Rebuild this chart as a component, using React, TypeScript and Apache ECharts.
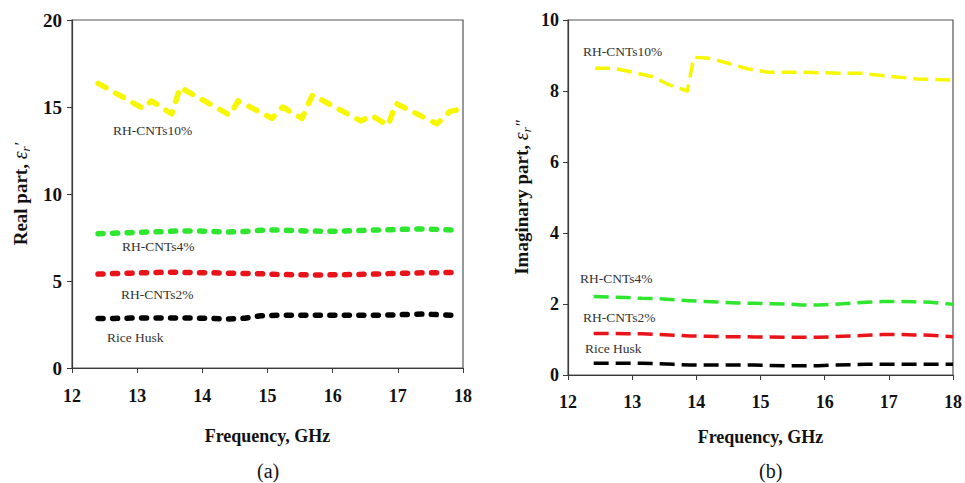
import React, { useEffect, useRef } from "react";
import * as echarts from "echarts";

// ---- Data (a) Real part ----
const freqGrid = [12.4, 12.65, 12.9, 13.15, 13.4, 13.65, 13.9, 14.15, 14.4, 14.65, 14.9, 15.15, 15.4, 15.65, 15.9, 16.15, 16.4, 16.65, 16.9, 17.15, 17.4, 17.65, 17.95];
const freqGridB = [12.4, 12.65, 12.9, 13.15, 13.4, 13.65, 13.9, 14.15, 14.4, 14.65, 14.9, 15.15, 15.4, 15.65, 15.9, 16.15, 16.4, 16.65, 16.9, 17.15, 17.4, 17.65, 18.0];

const realCNT10Freq = [12.4, 13.09, 13.22, 13.53, 13.66, 14.42, 14.55, 15.07, 15.23, 15.53, 15.69, 16.43, 16.6, 16.85, 16.97, 17.6, 17.8, 17.97];
const realCNT10 = [16.36, 14.92, 15.35, 14.6, 16.13, 14.54, 15.35, 14.35, 15.0, 14.35, 15.69, 14.2, 14.5, 13.95, 15.21, 14.03, 14.75, 14.88];
const realCNT4 = [7.72, 7.75, 7.78, 7.82, 7.84, 7.88, 7.88, 7.85, 7.82, 7.84, 7.92, 7.93, 7.9, 7.87, 7.86, 7.87, 7.9, 7.93, 7.95, 7.98, 7.99, 7.96, 7.92];
const realCNT2 = [5.4, 5.43, 5.45, 5.48, 5.5, 5.5, 5.48, 5.47, 5.45, 5.43, 5.42, 5.38, 5.36, 5.35, 5.35, 5.36, 5.38, 5.4, 5.43, 5.45, 5.47, 5.48, 5.5];
const realRH = [2.85, 2.85, 2.87, 2.88, 2.88, 2.88, 2.87, 2.85, 2.82, 2.86, 3.0, 3.03, 3.03, 3.03, 3.03, 3.03, 3.03, 3.03, 3.05, 3.08, 3.1, 3.06, 3.02];

// ---- Data (b) Imaginary part ----
const imagCNT10Freq = [12.42, 12.7, 12.98, 13.32, 13.58, 13.86, 13.96, 14.2, 14.5, 14.81, 15.12, 15.6, 16.31, 16.57, 16.93, 17.44, 18.0];
const imagCNT10 = [8.64, 8.64, 8.54, 8.4, 8.17, 8.0, 8.95, 8.92, 8.78, 8.62, 8.53, 8.53, 8.5, 8.5, 8.43, 8.34, 8.31];
const imagCNT4 = [2.21, 2.2, 2.18, 2.16, 2.15, 2.12, 2.09, 2.07, 2.05, 2.03, 2.02, 2.01, 2.0, 1.97, 1.97, 1.99, 2.02, 2.05, 2.07, 2.07, 2.06, 2.05, 1.99];
const imagCNT2 = [1.17, 1.17, 1.16, 1.16, 1.14, 1.12, 1.1, 1.09, 1.08, 1.08, 1.07, 1.07, 1.06, 1.06, 1.06, 1.08, 1.1, 1.12, 1.14, 1.14, 1.13, 1.12, 1.08];
const imagRH = [0.33, 0.33, 0.33, 0.33, 0.32, 0.3, 0.28, 0.28, 0.28, 0.28, 0.28, 0.27, 0.26, 0.26, 0.26, 0.28, 0.29, 0.3, 0.3, 0.3, 0.3, 0.3, 0.3];

const xTicks = { min: 12, max: 18, interval: 1 };
const yTicksA = { min: 0, max: 20, interval: 5 };
const yTicksB = { min: 0, max: 10, interval: 2 };

const COLORS = { cnt10: "#f7f700", cnt4: "#2ee62e", cnt2: "#e8141a", rh: "#000000" };
const SERIF = "Liberation Serif";

const zip = (xs: number[], ys: number[]) => ys.map((y, i) => [xs[i], y]);

export default function App() {
  const ref = useRef<HTMLDivElement>(null);
  useEffect(() => {
    if (!ref.current) return;
    const chart = echarts.init(ref.current, undefined, { renderer: "svg" });

    const axisLine = { show: true, lineStyle: { color: "#3a3a3a", width: 1.2 } };
    const axisTick = { show: true, inside: false, length: 5, lineStyle: { color: "#3a3a3a" } };
    const tickLabel = (size: number, margin: number) => ({
      fontFamily: SERIF, fontWeight: "bold" as const, fontSize: size, color: "#111", margin,
    });
    const titleStyle = { fontFamily: SERIF, fontWeight: "bold" as const, fontSize: 18, color: "#111" };
    const nameRich = {
      t: { fontFamily: SERIF, fontWeight: "bold" as const, fontSize: 19, color: "#111", lineHeight: 24 },
      e: { fontFamily: SERIF, fontStyle: "italic" as const, fontSize: 20, color: "#111", lineHeight: 24 },
      s: { fontFamily: SERIF, fontStyle: "italic" as const, fontSize: 13, color: "#111", lineHeight: 24, verticalAlign: "bottom" as const },
      p: { fontFamily: SERIF, fontStyle: "italic" as const, fontSize: 17, color: "#111", lineHeight: 24 },
    };

    const lineA = (name: string, data: number[][], color: string, dash: number[]) => ({
      name, type: "line", xAxisIndex: 0, yAxisIndex: 0, data, showSymbol: false, symbol: "none",
      lineStyle: { color, width: 5.5, type: dash, cap: "round", join: "round" },
    });
    const lineB = (name: string, data: number[][], color: string) => ({
      name, type: "line", xAxisIndex: 1, yAxisIndex: 1, data, showSymbol: false, symbol: "none",
      lineStyle: { color, width: 3.5, type: [15, 7], cap: "butt", join: "round" },
    });

    const label = (text: string, x: number, y: number) => ({
      type: "text", left: x, top: y - 8,
      style: { text, fontFamily: SERIF, fontSize: 13.5, fill: "#333" },
    });

    chart.setOption({
      animation: false,
      backgroundColor: "#fff",
      grid: [
        { left: 72, top: 20, width: 391, height: 348, show: true, borderColor: "#555", borderWidth: 1.2 },
        { left: 568, top: 20, width: 388, height: 355, show: true, borderColor: "#555", borderWidth: 1.2 },
      ],
      xAxis: [
        {
          type: "value", gridIndex: 0, ...xTicks, axisLine, axisTick, splitLine: { show: false },
          axisLabel: tickLabel(18, 19),
          name: "Frequency, GHz", nameLocation: "middle", nameGap: 59, nameTextStyle: titleStyle,
        },
        {
          type: "value", gridIndex: 1, ...xTicks, axisLine, axisTick, splitLine: { show: false },
          axisLabel: tickLabel(18, 18),
          name: "Frequency, GHz", nameLocation: "middle", nameGap: 53, nameTextStyle: titleStyle,
        },
      ],
      yAxis: [
        {
          type: "value", gridIndex: 0, ...yTicksA, axisLine, axisTick, splitLine: { show: false },
          axisLabel: tickLabel(19, 10),
          name: "{t|Real part, }{e|ε}{s|r}{p|′}", nameLocation: "middle", nameGap: 40,
          nameTextStyle: { rich: nameRich },
        },
        {
          type: "value", gridIndex: 1, ...yTicksB, axisLine, axisTick, splitLine: { show: false },
          axisLabel: tickLabel(18, 9),
          name: "{t|Imaginary part, }{e|ε}{s|r}{p|″}", nameLocation: "middle", nameGap: 35,
          nameTextStyle: { rich: nameRich },
        },
      ],
      series: [
        lineA("RH-CNTs10%", zip(realCNT10Freq, realCNT10), COLORS.cnt10, [9, 11]),
        lineA("RH-CNTs4%", zip(freqGrid, realCNT4), COLORS.cnt4, [5, 9.5]),
        lineA("RH-CNTs2%", zip(freqGrid, realCNT2), COLORS.cnt2, [5, 9.5]),
        lineA("Rice Husk", zip(freqGrid, realRH), COLORS.rh, [5, 9.5]),
        lineB("RH-CNTs10%", zip(imagCNT10Freq, imagCNT10), COLORS.cnt10),
        lineB("RH-CNTs4%", zip(freqGridB, imagCNT4), COLORS.cnt4),
        lineB("RH-CNTs2%", zip(freqGridB, imagCNT2), COLORS.cnt2),
        lineB("Rice Husk", zip(freqGridB, imagRH), COLORS.rh),
      ],
      graphic: [
        label("RH-CNTs10%", 113, 131),
        label("RH-CNTs4%", 122, 247),
        label("RH-CNTs2%", 121, 295),
        label("Rice Husk", 107, 338),
        label("RH-CNTs10%", 583, 52),
        label("RH-CNTs4%", 580, 279),
        label("RH-CNTs2%", 583, 318),
        label("Rice Husk", 585, 349),
        { type: "text", left: 257, top: 461, style: { text: "(a)", fontFamily: SERIF, fontSize: 20, fill: "#111" } },
        { type: "text", left: 759, top: 461, style: { text: "(b)", fontFamily: SERIF, fontSize: 20, fill: "#111" } },
      ],
    });
    return () => chart.dispose();
  }, []);
  return <div ref={ref} style={{ position: "fixed", left: 0, top: 0, width: 965, height: 483 }} />;
}
